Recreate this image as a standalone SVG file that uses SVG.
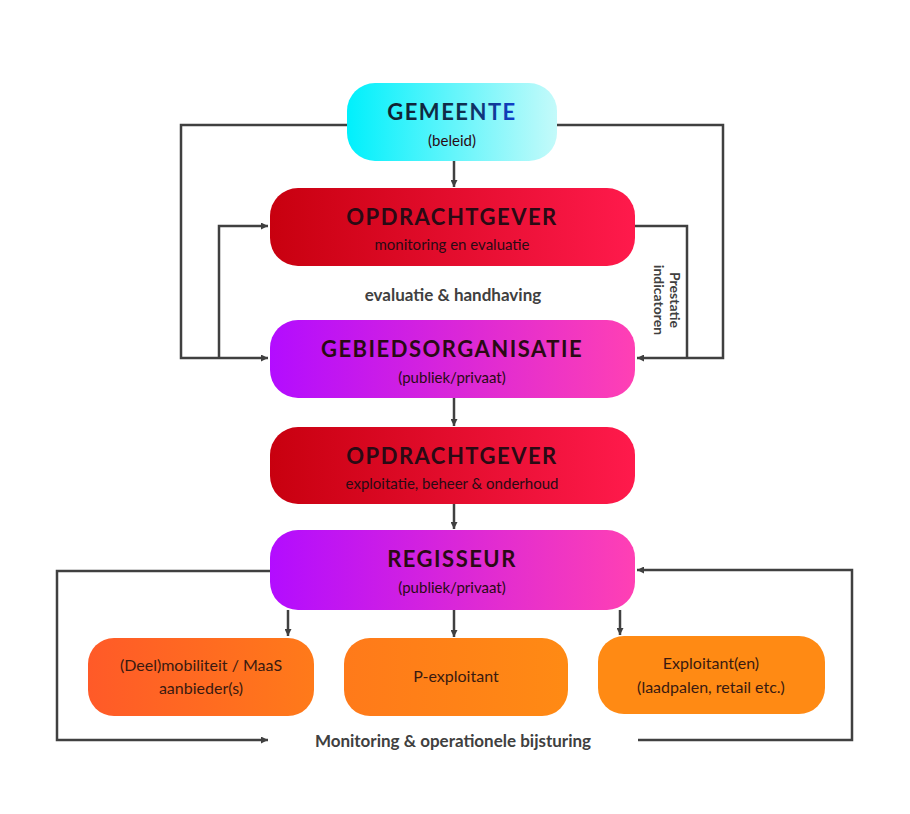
<svg xmlns="http://www.w3.org/2000/svg" width="910" height="814" viewBox="0 0 910 814">
<defs>
<linearGradient id="gCyan" x1="0" x2="1"><stop offset="0" stop-color="#00f0fc"/><stop offset="1" stop-color="#c4fafa"/></linearGradient>
<linearGradient id="gRed" x1="0" x2="1"><stop offset="0" stop-color="#c8000f"/><stop offset="1" stop-color="#ff1a4c"/></linearGradient>
<linearGradient id="gPur" x1="0" x2="1"><stop offset="0" stop-color="#b30cff"/><stop offset="1" stop-color="#ff40b4"/></linearGradient>
<linearGradient id="gTxt" x1="0" x2="1"><stop offset="0" stop-color="#102030"/><stop offset="0.6" stop-color="#103050"/><stop offset="1" stop-color="#1040d0"/></linearGradient>
<linearGradient id="gO1" x1="0" x2="1"><stop offset="0" stop-color="#ff5a28"/><stop offset="1" stop-color="#ff7a1a"/></linearGradient>
<linearGradient id="gO2" x1="0" x2="1"><stop offset="0" stop-color="#ff7a1a"/><stop offset="1" stop-color="#ff8a14"/></linearGradient>
<marker id="ah" viewBox="0 0 10 10" refX="10" refY="5" markerWidth="7" markerHeight="7" orient="auto" markerUnits="userSpaceOnUse"><path d="M0,0 L10,5 L0,10 z" fill="#404040"/></marker>
</defs>
<style>
.c{fill:none;stroke:#404040;stroke-width:2.5}
.t{font-family:Lato,"Open Sans",sans-serif;font-weight:700;font-size:22px;letter-spacing:1.5px;fill:#2a0a14;text-anchor:middle}
.s{font-family:Lato,"Open Sans",sans-serif;font-size:15px;fill:#2a0a14;text-anchor:middle}
.l{font-family:Lato,"Open Sans",sans-serif;font-weight:700;font-size:17px;fill:#404040;text-anchor:middle}
.b{font-family:Lato,"Open Sans",sans-serif;font-size:16px;fill:#3a1a10;text-anchor:middle}
</style>
<rect width="910" height="814" fill="#fff"/>
<g id="connectors">
<path class="c" d="M347,125 H181 V358 H268" marker-end="url(#ah)"/>
<path class="c" d="M219,358 V226 H268" marker-end="url(#ah)"/>
<path class="c" d="M557,125 H723 V358 H637" marker-end="url(#ah)"/>
<path class="c" d="M635,226 H687 V358"/>
<path class="c" d="M454,161 V187" marker-end="url(#ah)"/>
<path class="c" d="M454,398 V426" marker-end="url(#ah)"/>
<path class="c" d="M454,504 V529" marker-end="url(#ah)"/>
<path class="c" d="M270,571 H57 V740 H268" marker-end="url(#ah)"/>
<path class="c" d="M638,740 H852 V570 H637" marker-end="url(#ah)"/>
<path class="c" d="M288,610 V636" marker-end="url(#ah)"/>
<path class="c" d="M454,610 V637" marker-end="url(#ah)"/>
<path class="c" d="M620,610 V635" marker-end="url(#ah)"/>
<text class="l" x="453" y="301">evaluatie &amp; handhaving</text>
<text class="l" x="453" y="747">Monitoring &amp; operationele bijsturing</text>
<text class="l" transform="translate(665,300) rotate(90)" style="font-size:14px"><tspan x="0" y="-5">Prestatie</tspan><tspan x="0" y="11">indicatoren</tspan></text>
</g>
<g id="gemeente"><rect x="347" y="83" width="210" height="78" rx="28" fill="url(#gCyan)"/><text class="t" x="452" y="120" fill="url(#gTxt)" style="fill:url(#gTxt)">GEMEENTE</text><text class="s" x="452" y="146">(beleid)</text></g>
<g id="opdrachtgever1"><rect x="270" y="188" width="365" height="78" rx="28" fill="url(#gRed)"/><text class="t" x="452" y="225">OPDRACHTGEVER</text><text class="s" x="452" y="250">monitoring en evaluatie</text></g>
<g id="gebiedsorganisatie"><rect x="270" y="320" width="365" height="78" rx="28" fill="url(#gPur)"/><text class="t" x="452" y="357">GEBIEDSORGANISATIE</text><text class="s" x="452" y="383">(publiek/privaat)</text></g>
<g id="opdrachtgever2"><rect x="270" y="427" width="365" height="77" rx="28" fill="url(#gRed)"/><text class="t" x="452" y="464">OPDRACHTGEVER</text><text class="s" x="452" y="489">exploitatie, beheer &amp; onderhoud</text></g>
<g id="regisseur"><rect x="270" y="530" width="365" height="80" rx="28" fill="url(#gPur)"/><text class="t" x="452" y="567">REGISSEUR</text><text class="s" x="452" y="593">(publiek/privaat)</text></g>
<g id="deelmobiliteit"><rect x="88" y="638" width="226" height="78" rx="26" fill="url(#gO1)"/><text class="b" x="201" y="671">(Deel)mobiliteit / MaaS</text><text class="b" x="201" y="694">aanbieder(s)</text></g>
<g id="pexploitant"><rect x="344" y="638" width="224" height="78" rx="26" fill="url(#gO2)"/><text class="b" x="456" y="682">P-exploitant</text></g>
<g id="exploitanten"><rect x="598" y="636" width="227" height="78" rx="26" fill="#ff8a14"/><text class="b" x="711" y="669">Exploitant(en)</text><text class="b" x="711" y="693">(laadpalen, retail etc.)</text></g>
</svg>
